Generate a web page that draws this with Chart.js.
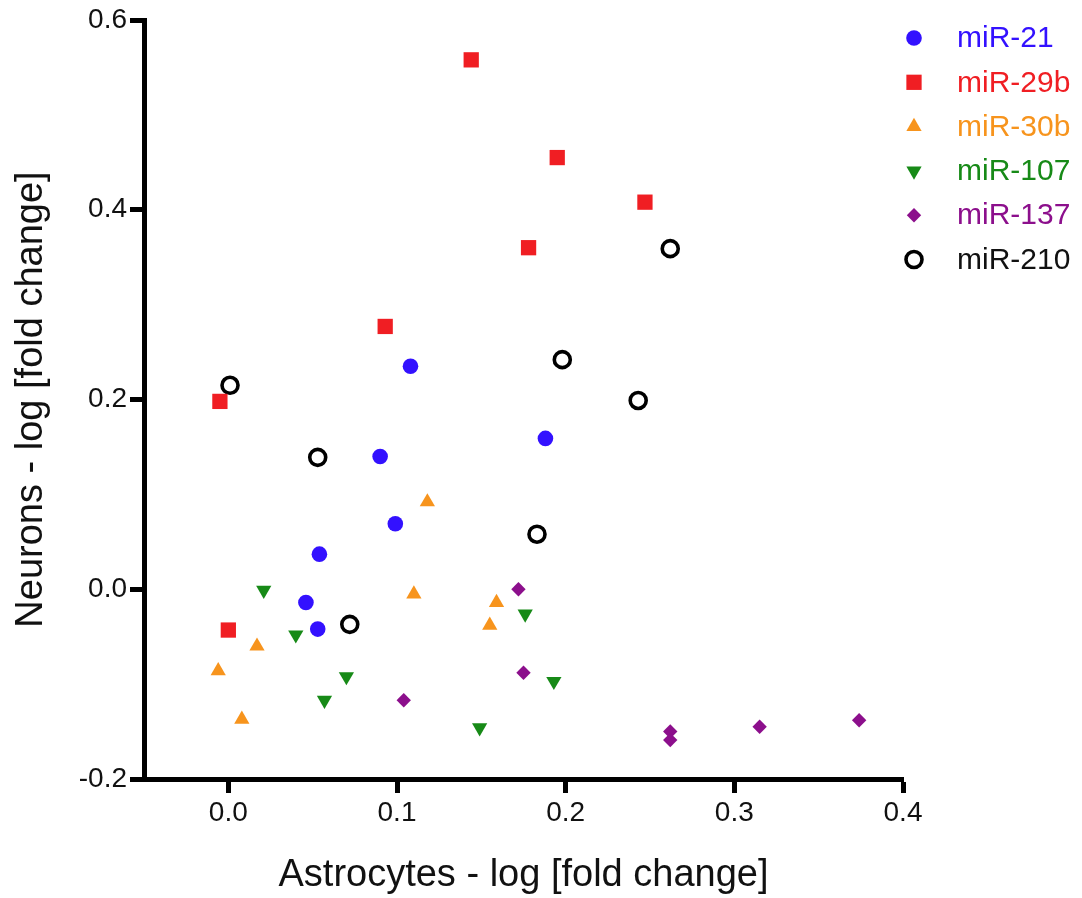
<!DOCTYPE html>
<html>
<head>
<meta charset="utf-8">
<title>miRNA fold change: astrocytes vs neurons</title>
<script src="https://cdn.jsdelivr.net/npm/chart.js@4.4.1/dist/chart.umd.min.js"></script>
<style>
  html, body { margin: 0; padding: 0; background: #fff; }
  #wrap { width: 1082px; height: 898px; }
</style>
</head>
<body>
<div id="wrap"><canvas id="chart" width="1082" height="898"></canvas></div>
<script>
/* --- Data --- */

const seriesNames = ['miR-21', 'miR-29b', 'miR-30b', 'miR-107', 'miR-137', 'miR-210'];

const mir21X = [0.108, 0.188, 0.090, 0.099, 0.054, 0.046, 0.053];
const mir21Y = [0.235, 0.159, 0.140, 0.069, 0.037, -0.014, -0.042];

const mir29bX = [0.144, 0.195, 0.247, 0.178, 0.093, -0.005, 0.000];
const mir29bY = [0.558, 0.455, 0.408, 0.360, 0.277, 0.198, -0.043];

const mir30bX = [0.118, 0.110, 0.159, 0.155, 0.017, -0.006, 0.008];
const mir30bY = [0.092, -0.005, -0.014, -0.038, -0.060, -0.086, -0.137];

const mir107X = [0.021, 0.040, 0.176, 0.070, 0.057, 0.193, 0.149];
const mir107Y = [-0.001, -0.048, -0.026, -0.092, -0.117, -0.097, -0.146];

const mir137X = [0.172, 0.175, 0.104, 0.262, 0.262, 0.315, 0.374];
const mir137Y = [0.000, -0.088, -0.117, -0.150, -0.159, -0.145, -0.138];

const mir210X = [0.001, 0.053, 0.198, 0.183, 0.262, 0.243, 0.072];
const mir210Y = [0.215, 0.139, 0.242, 0.058, 0.359, 0.199, -0.037];

const xTicks = { min: -0.05, max: 0.4, step: 0.1 };
const yTicks = { min: -0.2, max: 0.6, step: 0.2 };

const FONT = "'Liberation Sans', Arial, Helvetica, sans-serif";

/* --- Helpers --- */

function toPoints(xs, ys) {
  return xs.map((x, i) => ({ x, y: ys[i] }));
}

function makeSeries(name, xs, ys, style) {
  return {
    label: name,
    data: toPoints(xs, ys),
    pointStyle: style.shape,
    pointRadius: style.radius,
    pointRotation: style.rotation || 0,
    backgroundColor: style.fill,
    borderColor: style.stroke,
    borderWidth: style.lineWidth || 0,
    labelColor: style.text,
  };
}

/* Legend drawn to the right of the plot, in the style of the original figure */
const sideLegend = {
  id: 'sideLegend',
  afterDraw(chart) {
    const ctx = chart.ctx;
    const markX = chart.chartArea.right + 11;
    const textX = markX + 43;
    ctx.save();
    ctx.font = '30px ' + FONT;
    ctx.textBaseline = 'middle';
    ctx.textAlign = 'left';
    chart.data.datasets.forEach((ds, i) => {
      const y = 38 + i * 44.3;
      ctx.fillStyle = ds.backgroundColor;
      ctx.strokeStyle = ds.borderColor;
      ctx.lineWidth = ds.borderWidth;
      Chart.helpers.drawPoint(ctx, {
        pointStyle: ds.pointStyle,
        rotation: ds.pointRotation,
        radius: ds.pointRadius,
        borderWidth: ds.borderWidth,
      }, markX, y);
      ctx.fillStyle = ds.labelColor;
      ctx.fillText(ds.label, textX, y + 1);
    });
    ctx.restore();
  }
};

/* --- Chart --- */

const datasets = [
  makeSeries(seriesNames[0], mir21X, mir21Y,
    { shape: 'circle', radius: 7.8, fill: '#3311ff', stroke: '#3311ff', text: '#3311ff' }),
  makeSeries(seriesNames[1], mir29bX, mir29bY,
    { shape: 'rect', radius: 10.8, fill: '#f01e23', stroke: '#f01e23', text: '#f01e23' }),
  makeSeries(seriesNames[2], mir30bX, mir30bY,
    { shape: 'triangle', radius: 8.8, fill: '#f7941d', stroke: '#f7941d', text: '#f7941d' }),
  makeSeries(seriesNames[3], mir107X, mir107Y,
    { shape: 'triangle', radius: 8.8, rotation: 180, fill: '#178a17', stroke: '#178a17', text: '#178a17' }),
  makeSeries(seriesNames[4], mir137X, mir137Y,
    { shape: 'rectRot', radius: 7.2, fill: '#8c0f8c', stroke: '#8c0f8c', text: '#8c0f8c' }),
  makeSeries(seriesNames[5], mir210X, mir210Y,
    { shape: 'circle', radius: 8, fill: '#ffffff', stroke: '#000000', lineWidth: 3.6, text: '#111111' }),
];

const axisLine = {
  grid: {
    drawOnChartArea: false,
    drawTicks: true,
    tickLength: 14,
    tickWidth: 5,
    tickColor: '#000',
  },
  border: { display: true, color: '#000', width: 5 },
};

new Chart(document.getElementById('chart'), {
  type: 'scatter',
  data: { datasets },
  options: {
    responsive: false,
    animation: false,
    events: [],
    layout: { padding: { top: 20, right: 179, bottom: 0, left: 0 } },
    plugins: {
      legend: { display: false },
      tooltip: { enabled: false },
    },
    scales: {
      x: {
        type: 'linear',
        min: xTicks.min,
        max: xTicks.max,
        ...axisLine,
        ticks: {
          stepSize: xTicks.step,
          includeBounds: false,
          padding: 3,
          color: '#111',
          font: { family: FONT, size: 28 },
          callback: (v) => v.toFixed(1),
        },
        title: {
          display: true,
          text: 'Astrocytes - log [fold change]',
          color: '#111',
          font: { family: FONT, size: 38 },
          padding: { top: 0, bottom: 0 },
        },
        afterFit: (scale) => { scale.height = 119; },
      },
      y: {
        type: 'linear',
        min: yTicks.min,
        max: yTicks.max,
        ...axisLine,
        ticks: {
          stepSize: yTicks.step,
          padding: 3,
          color: '#111',
          font: { family: FONT, size: 28 },
          callback: (v) => v.toFixed(1),
        },
        title: {
          display: true,
          text: 'Neurons - log [fold change]',
          color: '#111',
          font: { family: FONT, size: 38 },
          padding: { top: 9, bottom: 0 },
        },
        afterFit: (scale) => { scale.width = 144; },
      }
    }
  },
  plugins: [sideLegend]
});
</script>
</body>
</html>
